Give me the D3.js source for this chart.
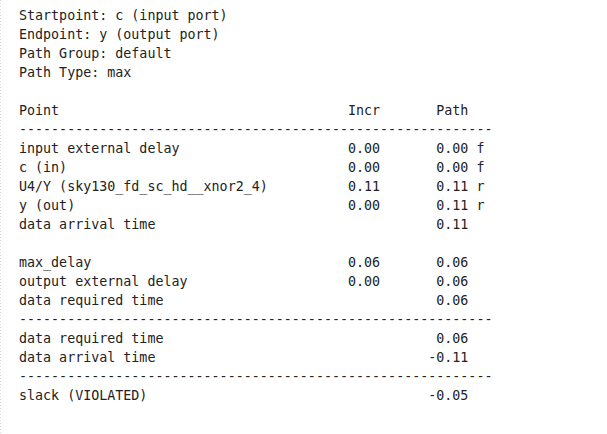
<!DOCTYPE html>
<html><head><meta charset="utf-8">
<script src="https://cdn.jsdelivr.net/npm/d3@7"></script>
<style>html,body{margin:0;padding:0;background:#fff;}</style>
</head><body>
<script>
const header = [
  "Startpoint: c (input port)",
  "Endpoint: y (output port)",
  "Path Group: default",
  "Path Type: max"
];
const columns = ["Point", "Incr", "Path"];
const points = ["input external delay", "c (in)", "U4/Y (sky130_fd_sc_hd__xnor2_4)", "y (out)", "data arrival time",
  "", "max_delay", "output external delay", "data required time"];
const incr = [0.00, 0.00, 0.11, 0.00, null, null, 0.06, 0.00, null];
const path = [0.00, 0.00, 0.11, 0.11, 0.11, null, 0.06, 0.06, 0.06];
const edge = ["f", "f", "r", "r", "", "", "", "", ""];
const summaryLabels = ["data required time", "data arrival time"];
const summaryValues = [0.06, -0.11];
const slackLabel = "slack (VIOLATED)";
const slackValue = -0.05;

const W = 607, H = 434;
const fontSize = 13.33, lineH = 19;
const x0 = 19, y0 = 20;
const fmt = v => v.toFixed(2);
const pad = (s, n) => s + " ".repeat(Math.max(0, n - s.length));
const lpad = (s, n) => " ".repeat(Math.max(0, n - s.length)) + s;
const dashes = "-".repeat(59);

const lines = [];
header.forEach(h => lines.push(h));
lines.push("");
lines.push(pad(columns[0], 41) + pad(columns[1], 11) + columns[2]);
lines.push(dashes);
points.forEach((p, i) => {
  if (p === "") { lines.push(""); return; }
  let s = pad(p, 40);
  s += incr[i] === null ? " ".repeat(5) : lpad(fmt(incr[i]), 5);
  s += lpad(fmt(path[i]), 11);
  if (edge[i]) s += " " + edge[i];
  lines.push(s);
});
lines.push(dashes);
summaryLabels.forEach((l, i) => lines.push(pad(l, 45) + lpad(fmt(summaryValues[i]), 11)));
lines.push(dashes);
lines.push(pad(slackLabel, 45) + lpad(fmt(slackValue), 11));

const svg = d3.select("body").append("svg").attr("width", W).attr("height", H);
svg.append("line").attr("x1", 0.5).attr("x2", 0.5).attr("y1", 0).attr("y2", H)
  .attr("stroke", "#d8d8d8").attr("stroke-dasharray", "1,2");
const y = d3.scaleLinear().domain([0, 1]).range([y0, y0 + lineH]);
svg.append("g").selectAll("text").data(lines).join("text")
  .attr("x", x0).attr("y", (d, i) => y(i))
  .attr("font-family", "DejaVu Sans Mono")
  .attr("font-size", fontSize)
  .attr("fill", "#222")
  .attr("xml:space", "preserve")
  .style("white-space", "pre")
  .text(d => d);
</script>
</body></html>
